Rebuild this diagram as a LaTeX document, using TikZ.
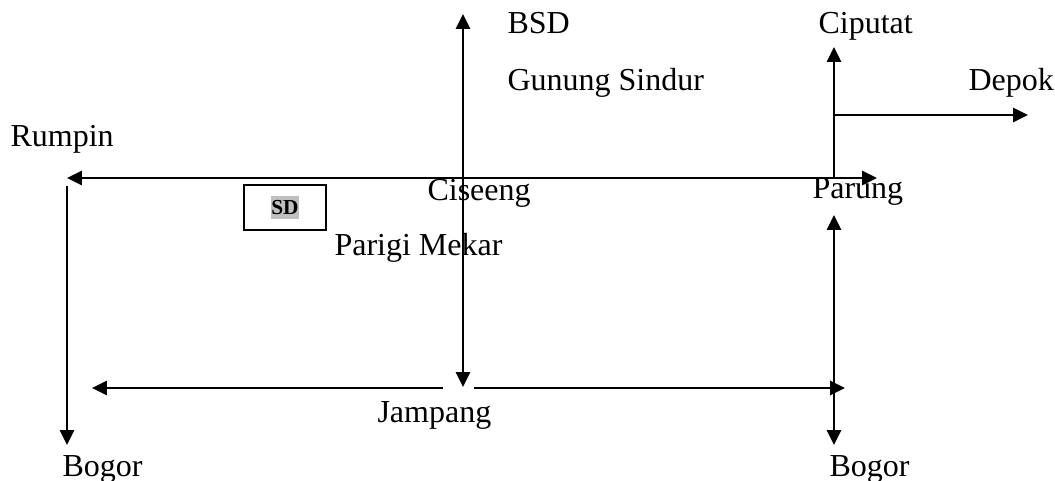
\documentclass[tikz,border=0pt]{standalone}
\usepackage{fontspec}
\setmainfont{Liberation Serif}
\usetikzlibrary{arrows.meta}
\begin{document}
\begin{tikzpicture}[x=0.375pt,y=-0.375pt,
  road/.style={line width=1.1pt,-{Triangle[length=5.6pt,width=5.2pt]}},
  road2/.style={line width=1.1pt,{Triangle[length=5.6pt,width=5.2pt]}-{Triangle[length=5.6pt,width=5.2pt]}},
  place/.style={anchor=base west,inner sep=0pt,font=\fontsize{12}{14}\selectfont}]
\useasboundingbox (0,0) rectangle (1055,480);
% labels
\node[place] (bsd) at (507,33) {BSD};
\node[place] (gs) at (507,90) {Gunung Sindur};
\node[place] (ciputat) at (818,33) {Ciputat};
\node[place] (depok) at (968,90) {Depok};
\node[place] (rumpin) at (10,146) {Rumpin};
\node[place] (ciseeng) at (427,200) {Ciseeng};
\node[place] (parung) at (812,198) {Parung};
\node[place] (parigi) at (334,255) {Parigi Mekar};
\node[place] (jampang) at (377,422) {Jampang};
\node[place] (bogorL) at (62,476) {Bogor};
\node[place] (bogorR) at (829,476) {Bogor};
% SD box
\node[draw,line width=0.8pt,minimum width=30.75pt,minimum height=16.9pt,inner sep=0pt] (sdbox) at (285,207.5) {};
\node[fill=black!25,inner xsep=0.2pt,inner ysep=0pt,minimum height=8.6pt,font=\fontsize{8}{9}\selectfont\bfseries] (sd) at (sdbox.center) {SD};
% coordinates
\coordinate (hL) at (67,178);
\coordinate (hR) at (877,178);
\coordinate (lvT) at (67,186);
\coordinate (lvB) at (67,445);
\coordinate (cT) at (463,14);
\coordinate (cB) at (463,387);
\coordinate (bL) at (92,388);
\coordinate (bLs) at (443,388);
\coordinate (bRs) at (474,388);
\coordinate (bR) at (845,388);
\coordinate (rT) at (834,215);
\coordinate (rB) at (834,445);
\coordinate (uB) at (834,178);
\coordinate (uT) at (834,47);
\coordinate (dS) at (834,115);
\coordinate (dE) at (1028,115);
% roads
\draw[road2] (hL) -- (hR);
\draw[road] (lvT) -- (lvB);
\draw[road2] (cT) -- (cB);
\draw[road] (bLs) -- (bL);
\draw[road] (bRs) -- (bR);
\draw[road2] (rT) -- (rB);
\draw[road] (uB) -- (uT);
\draw[road] (dS) -- (dE);
\end{tikzpicture}
\end{document}
